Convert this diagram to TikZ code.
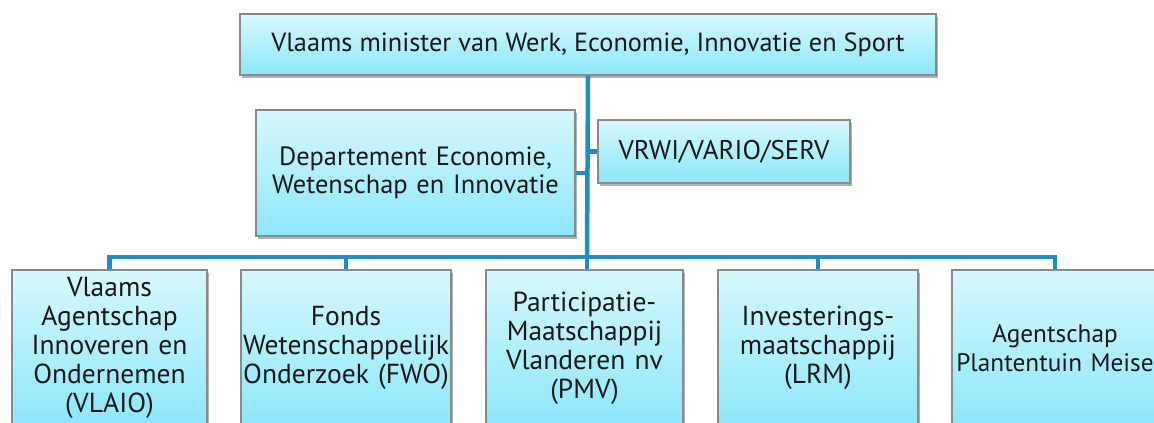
\documentclass[tikz,border=0pt]{standalone}
\usepackage{fontspec}
\setmainfont{PT Sans}
\usetikzlibrary{shadows}
\definecolor{conncol}{HTML}{1B8FC2}
\definecolor{boxtop}{HTML}{D6F8FD}
\definecolor{boxbot}{HTML}{8CE7FA}
\definecolor{boxline}{HTML}{8A8A8A}
\tikzset{
  box/.style={draw=boxline, line width=1.2pt, top color=boxtop, bottom color=boxbot,
    drop shadow={shadow xshift=2pt, shadow yshift=-3pt, fill=black, opacity=0.3},
    align=center, inner sep=0pt, text=black!90,
    font=\fontsize{27.5}{29}\selectfont},
  conn/.style={draw=conncol, line width=4.5pt}
}
\begin{document}
\begin{tikzpicture}[x=1pt,y=-1pt]
\clip (0,0) rectangle (1154,423);
\useasboundingbox (0,0) rectangle (1154,423);
\fill[white] (0,0) rectangle (1154,423);
\coordinate (bus) at (587,257);
\node[box, minimum width=696pt, minimum height=61pt, font=\fontsize{26.3}{29}\selectfont] (top) at (588,44.5) {Vlaams minister van Werk, Economie, Innovatie en Sport};
\node[box, minimum width=319pt, minimum height=126pt, text width=314pt, font=\fontsize{26.4}{28}\selectfont] (dept) at (415.5,173) {Departement Economie,\\Wetenschap en Innovatie};
\node[box, minimum width=252pt, minimum height=63pt, font=\fontsize{27}{29}\selectfont] (vrwi) at (724,151.5) {VRWI/VARIO/SERV};
\node[box, minimum width=195pt, minimum height=156pt, text width=192pt] (b1) at (109.5,348) {Vlaams\\Agentschap\\Innoveren en\\Ondernemen\\(VLAIO)};
\node[box, minimum width=210pt, minimum height=156pt, text width=210pt] (b2) at (346,348) {Fonds\\Wetenschappelijk\\Onderzoek (FWO)};
\node[box, minimum width=197pt, minimum height=156pt, text width=194pt] (b3) at (584.5,348) {Participatie-\\Maatschappij\\Vlanderen nv\\(PMV)};
\node[box, minimum width=200pt, minimum height=156pt, text width=198pt] (b4) at (818,348) {Investerings-\\maatschappij\\(LRM)};
\node[box, minimum width=206pt, minimum height=156pt, text width=200pt, font=\fontsize{25.3}{29}\selectfont] (b5) at (1055,348) {Agentschap\\Plantentuin Meise};
\draw[conn] (top.south) -- (bus);
\draw[conn] (dept.east) -- (dept.east -| bus);
\draw[conn] (vrwi.west) -- (vrwi.west -| bus);
\draw[conn] (bus) -| (b1.north);
\draw[conn] (bus) -| (b2.north);
\draw[conn] (bus) -- (b3.north -| bus);
\draw[conn] (bus) -| (b4.north);
\draw[conn] (bus) -| (b5.north);
\end{tikzpicture}
\end{document}
